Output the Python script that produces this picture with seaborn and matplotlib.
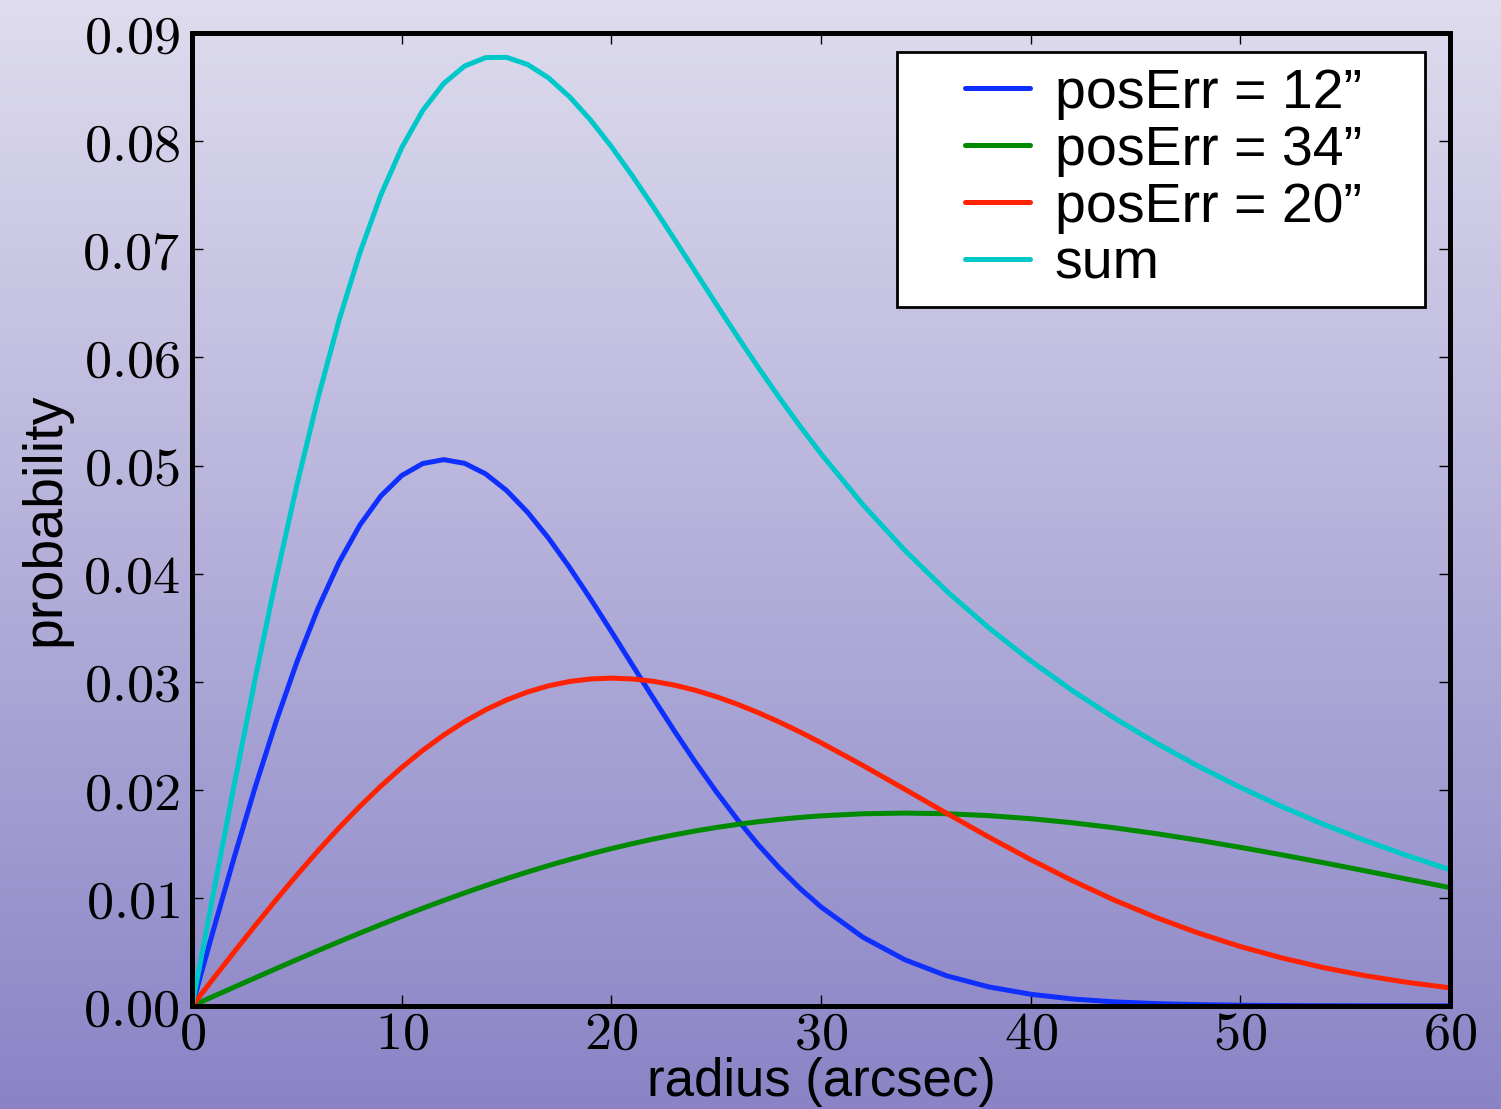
#!/usr/bin/python3
# probability vs radius for three position errors and their sum
import seaborn as sns
import matplotlib.pyplot as plt
import pandas as pd
import numpy as np
from matplotlib.ticker import FuncFormatter
from matplotlib.legend_handler import HandlerLine2D
from matplotlib.lines import Line2D

# values, radius in arcsec
radius = list(range(0, 31)) + list(range(32, 61, 2))
p12 = [0.0, 0.006920, 0.013697, 0.020192, 0.026277, 0.031835, 0.036771,
       0.041006, 0.044485, 0.047178, 0.049076, 0.050184, 0.050544, 0.050204,
       0.049227, 0.047691, 0.045679, 0.043280, 0.040581, 0.037672, 0.034632,
       0.031539, 0.028458, 0.025448, 0.022556, 0.019820, 0.017268, 0.014918,
       0.012780, 0.010860, 0.009154,
       0.006348, 0.004265, 0.002777, 0.001754, 0.001074, 0.000638, 0.000368,
       0.000206, 0.000112, 0.000059, 0.000030, 0.000015, 0.000007, 0.000003,
       0.000001]
p34 = [0.0, 0.000865, 0.001727, 0.002585, 0.003436, 0.004279, 0.005110,
       0.005928, 0.006731, 0.007517, 0.008284, 0.009030, 0.009754, 0.010453,
       0.011127, 0.011773, 0.012390, 0.012978, 0.013535, 0.014060, 0.014552,
       0.015011, 0.015436, 0.015827, 0.016183, 0.016504, 0.016789, 0.017040,
       0.017256, 0.017437, 0.017584,
       0.017777, 0.017839, 0.017779, 0.017602, 0.017320, 0.016940, 0.016475,
       0.015934, 0.015328, 0.014669, 0.013968, 0.013234, 0.012478, 0.011711,
       0.010939]
p20 = [0.0, 0.002497, 0.004975, 0.007416, 0.009802, 0.012115, 0.014340,
       0.016460, 0.018462, 0.020333, 0.022063, 0.023640, 0.025058, 0.026311,
       0.027394, 0.028307, 0.029046, 0.029614, 0.030014, 0.030250, 0.030327,
       0.030252, 0.030034, 0.029682, 0.029205, 0.028615, 0.027921, 0.027136,
       0.026272, 0.025339, 0.024349,
       0.022243, 0.020039, 0.017811, 0.015625, 0.013534, 0.011576, 0.009781,
       0.008166, 0.006736, 0.005492, 0.004426, 0.003527, 0.002778, 0.002164,
       0.001666]
psum = [0.0, 0.010282, 0.020399, 0.030193, 0.039515, 0.048229, 0.056221,
        0.063394, 0.069678, 0.075028, 0.079423, 0.082854, 0.085356, 0.086968,
        0.087748, 0.087771, 0.087115, 0.085872, 0.084130, 0.081982, 0.079511,
        0.076802, 0.073928, 0.070957, 0.067944, 0.064939, 0.061978, 0.059094,
        0.056308, 0.053636, 0.051087,
        0.046368, 0.042143, 0.038367, 0.034981, 0.031928, 0.029154, 0.026624,
        0.024306, 0.022176, 0.020220, 0.018424, 0.016776, 0.015263, 0.013878,
        0.012606]

labels = ["posErr = 12\u201d", "posErr = 34\u201d", "posErr = 20\u201d", "sum"]
colors = ["#0f2fff", "#008a00", "#ff2200", "#00c8c8"]

df = pd.concat([
    pd.DataFrame({"radius": radius, "prob": vals, "series": lab})
    for vals, lab in zip([p12, p34, p20, psum], labels)
])

sns.set_style("ticks")
plt.rcParams["font.family"] = ["Liberation Sans", "DejaVu Sans"]
plt.rcParams["mathtext.fontset"] = "cm"
for k in ["text.color", "axes.labelcolor", "xtick.color", "ytick.color"]:
    plt.rcParams[k] = "black"

fig = plt.figure(figsize=(15.01, 11.09), dpi=100)

# gradient background over the whole figure
bg = fig.add_axes([0, 0, 1, 1], zorder=-10)
grad = np.linspace(0, 1, 256).reshape(-1, 1)
top = np.array([0xde, 0xdc, 0xee]) / 255
bot = np.array([0x8a, 0x84, 0xc6]) / 255
img = top + (bot - top) * grad[:, :, None]
bg.imshow(img, aspect="auto", extent=[0, 1, 0, 1])
bg.axis("off")

ax = fig.add_axes([0.128, 0.093, 0.838, 0.877])
ax.set_facecolor("none")

sns.lineplot(data=df, x="radius", y="prob", hue="series", palette=colors,
             hue_order=labels, linewidth=3.6, ax=ax)

ax.set_xlim(0, 60)
ax.set_ylim(0, 0.09)
ax.set_xticks(range(0, 61, 10))
ax.set_yticks(np.arange(0, 0.0901, 0.01))
ax.xaxis.set_major_formatter(FuncFormatter(lambda v, p: f"${v:.0f}$"))
ax.yaxis.set_major_formatter(FuncFormatter(lambda v, p: f"${v:.2f}$"))
ax.tick_params(direction="in", length=8, width=1, labelsize=39,
               top=True, right=True)
ax.tick_params(axis="x", pad=3)
ax.tick_params(axis="y", pad=9)
for s in ax.spines.values():
    s.set_linewidth(3.6)
    s.set_color("black")
    s.set_visible(True)

ax.set_xlabel("radius (arcsec)", fontsize=38, labelpad=-2)
ax.set_ylabel("probability", fontsize=40, labelpad=8)

# legend with the handle set in from the left edge, like the old-style box
handles, _ = ax.get_legend_handles_labels()
leg = ax.legend(handles, labels, loc="upper left",
                bbox_to_anchor=(0.5604, 0.0, 0.4197, 0.981), mode="expand",
                fontsize=40, frameon=True, fancybox=False,
                edgecolor="black", facecolor="white", framealpha=1,
                labelspacing=0.09, handlelength=2.1, handletextpad=0.45,
                borderpad=0.29, borderaxespad=0.0,
                handler_map={Line2D: HandlerLine2D(xpad=0.93)})
leg.get_frame().set_linewidth(2)
for ln in leg.get_lines():
    ln.set_linewidth(3.6)

plt.savefig("out.png", dpi=100)
